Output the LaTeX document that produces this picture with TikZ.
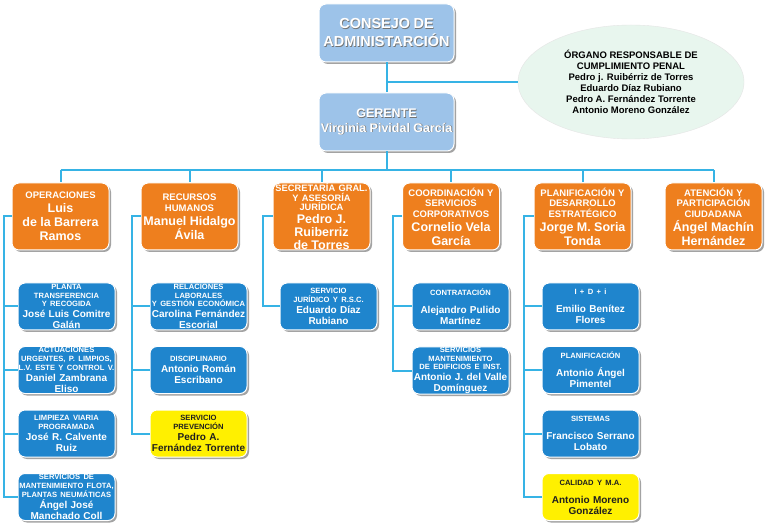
\documentclass[tikz,border=0pt]{standalone}
\usepackage{fontspec}
\setmainfont{Liberation Sans}
\usetikzlibrary{shadows,shapes.geometric}
\definecolor{cline}{HTML}{36B3E5}
\definecolor{corange}{HTML}{EE7F1E}
\definecolor{cblue}{HTML}{1F85CD}
\definecolor{ctop}{HTML}{9DC3E9}
\definecolor{cyel}{HTML}{FFF000}
\definecolor{cell}{HTML}{E8F6EE}
\newcommand\tS[1]{{\fontsize{7.6}{8.8}\selectfont #1\par}}
\newcommand\nS[1]{{\fontsize{10}{11}\selectfont #1\par}}
\newcommand\tO[1]{{\fontsize{9.5}{10.5}\selectfont #1\par}}
\newcommand\nO[1]{{\fontsize{12.5}{14}\selectfont #1\par}}
\newcommand\tOt[1]{{\fontsize{9.3}{9.6}\selectfont #1\par}}
\newcommand\nOt[1]{{\fontsize{12.5}{12.8}\selectfont #1\par}}
\newcommand\tT[1]{{\fontsize{14.5}{18}\selectfont #1\par}}
\newcommand\tG[1]{{\fontsize{12.5}{14.5}\selectfont #1\par}}
\newcommand\gapS{\vspace{7pt}}
\tikzset{
  base/.style={rounded corners=7pt, inner sep=0pt, draw=white, line width=1pt,
    drop shadow={shadow xshift=2pt, shadow yshift=-2pt, fill=black!60, opacity=0.6}},
  obox/.style={base, fill=corange, minimum width=97pt, minimum height=67pt},
  sbox/.style={base, fill=cblue, minimum width=97pt, minimum height=47pt},
  ybox/.style={sbox, fill=cyel},
  tbox/.style={base, fill=ctop, minimum width=135pt, minimum height=58pt},
  wtxt/.style={text=white, font=\bfseries, align=center, text width=134pt, inner sep=0pt},
  dtxt/.style={wtxt, text=black!88},
  shtxt/.style={wtxt, text=black!55, xshift=0.7pt, yshift=-0.7pt},
  conn/.style={draw=cline, line width=2pt},
}
\begin{document}
\begin{tikzpicture}[x=1pt, y=-1pt]
\fill[white] (0,0) rectangle (768,526);
\useasboundingbox (0,0) rectangle (768,526);

% top
\node[tbox, label={[shtxt]center:{\tT{CONSEJO DE\\ADMINISTARCIÓN}}}, label={[wtxt]center:{\tT{CONSEJO DE\\ADMINISTARCIÓN}}}] (consejo) at (386.5,33) {};
\node[tbox, label={[shtxt]center:{\tG{GERENTE\\Virginia Pividal García}}}, label={[wtxt]center:{\tG{GERENTE\\Virginia Pividal García}}}] (gerente) at (386.5,122) {};
\node[ellipse, fill=cell, draw=black!10, minimum width=226pt, minimum height=114pt, align=center, inner sep=0pt,
  font=\bfseries\fontsize{9.5}{11}\selectfont] (organo) at (631,82)
  {ÓRGANO RESPONSABLE DE\\CUMPLIMIENTO PENAL\\Pedro j. Ruibérriz de Torres\\Eduardo Díaz Rubiano\\Pedro A. Fernández Torrente\\Antonio Moreno González};

% orange
\node[obox, label={[wtxt]center:{\tO{OPERACIONES}\nO{Luis\\de la Barrera\\Ramos}}}] (o1) at (60.5,216.5) {};
\node[obox, label={[wtxt]center:{\tO{RECURSOS\\HUMANOS}\nO{Manuel Hidalgo\\Ávila}}}] (o2) at (189.5,216.5) {};
\node[obox, label={[wtxt]center:{\tOt{SECRETARÍA GRAL.\\Y ASESORÍA\\JURÍDICA}\nOt{Pedro J.\\Ruiberriz\\de Torres}}}] (o3) at (321.5,216.5) {};
\node[obox, label={[wtxt]center:{\tO{COORDINACIÓN Y\\SERVICIOS\\CORPORATIVOS}\nO{Cornelio Vela\\García}}}] (o4) at (451,216.5) {};
\node[obox, label={[wtxt]center:{\tO{PLANIFICACIÓN Y\\DESARROLLO\\ESTRATÉGICO}\nO{Jorge M. Soria\\Tonda}}}] (o5) at (582.5,216.5) {};
\node[obox, label={[wtxt]center:{\tO{ATENCIÓN Y\\PARTICIPACIÓN\\CIUDADANA}\nO{Ángel Machín\\Hernández}}}] (o6) at (713.5,216.5) {};

% column 1
\node[sbox, label={[wtxt]center:{\tS{PLANTA\\TRANSFERENCIA\\Y RECOGIDA}\nS{José Luis Comitre\\Galán}}}] (s11) at (66.5,306.5) {};
\node[sbox, label={[wtxt]center:{\tS{ACTUACIONES\\URGENTES, P. LIMPIOS,\\L.V. ESTE Y CONTROL V.}\nS{Daniel Zambrana\\Eliso}}}] (s12) at (66.5,370) {};
\node[sbox, label={[wtxt]center:{\tS{LIMPIEZA VIARIA\\PROGRAMADA}\nS{José R. Calvente\\Ruiz}}}] (s13) at (66.5,433.5) {};
\node[sbox, label={[wtxt]center:{\tS{SERVICIOS DE\\MANTENIMIENTO FLOTA,\\PLANTAS NEUMÁTICAS}\nS{Ángel José\\Manchado Coll}}}] (s14) at (66.5,497) {};
% column 2
\node[sbox, label={[wtxt]center:{\tS{RELACIONES\\LABORALES\\Y GESTIÓN ECONÓMICA}\nS{Carolina Fernández\\Escorial}}}] (s21) at (198.5,306.5) {};
\node[sbox, label={[wtxt]center:{\tS{DISCIPLINARIO}\nS{Antonio Román\\Escribano}}}] (s22) at (198.5,370) {};
\node[ybox, label={[dtxt]center:{\tS{SERVICIO\\PREVENCIÓN}\nS{Pedro A.\\Fernández Torrente}}}] (s23) at (198.5,433.5) {};
% column 3
\node[sbox, label={[wtxt]center:{\tS{SERVICIO\\JURÍDICO Y R.S.C.}\nS{Eduardo Díaz\\Rubiano}}}] (s31) at (328.5,306.5) {};
% column 4
\node[sbox, label={[wtxt]center:{\tS{CONTRATACIÓN}\gapS\nS{Alejandro Pulido\\Martínez}}}] (s41) at (460.5,306.5) {};
\node[sbox, label={[wtxt]center:{\tS{SERVICIOS\\MANTENIMIENTO\\DE EDIFICIOS E INST.}\nS{Antonio J. del Valle\\Domínguez}}}] (s42) at (460.5,370.5) {};
% column 5
\node[sbox, label={[wtxt]center:{\tS{I + D + i}\gapS\nS{Emilio Benítez\\Flores}}}] (s51) at (590.5,306.5) {};
\node[sbox, label={[wtxt]center:{\tS{PLANIFICACIÓN}\gapS\nS{Antonio Ángel\\Pimentel}}}] (s52) at (590.5,370) {};
\node[sbox, label={[wtxt]center:{\tS{SISTEMAS}\gapS\nS{Francisco Serrano\\Lobato}}}] (s53) at (590.5,433.5) {};
\node[ybox, label={[dtxt]center:{\tS{CALIDAD Y M.A.}\gapS\nS{Antonio Moreno\\González}}}] (s54) at (590.5,497) {};

% connectors
\coordinate (bus) at (0,170);
\coordinate (t1) at (4,0);
\coordinate (t2) at (132,0);
\coordinate (t3) at (263,0);
\coordinate (t4) at (393,0);
\coordinate (t5) at (524,0);
\draw[conn] (consejo) -- (gerente);
\draw[conn] (consejo.south |- organo.west) -- (organo.west);
\draw[conn] (gerente.south) -- (gerente.south |- bus);
\draw[conn] (o1.north |- bus) -- (o6.north |- bus);
\foreach \o in {o1,o2,o3,o4,o5,o6} \draw[conn] (\o.north |- bus) -- (\o.north);
\draw[conn] (o1.west) -| (t1 |- s14.west) -- (s14.west);
\foreach \s in {s11,s12,s13} \draw[conn] (t1 |- \s.west) -- (\s.west);
\draw[conn] (o2.west) -| (t2 |- s23.west) -- (s23.west);
\foreach \s in {s21,s22} \draw[conn] (t2 |- \s.west) -- (\s.west);
\draw[conn] (o3.west) -| (t3 |- s31.west) -- (s31.west);
\draw[conn] (o4.west) -| (t4 |- s42.west) -- (s42.west);
\draw[conn] (t4 |- s41.west) -- (s41.west);
\draw[conn] (o5.west) -| (t5 |- s54.west) -- (s54.west);
\foreach \s in {s51,s52,s53} \draw[conn] (t5 |- \s.west) -- (\s.west);
\end{tikzpicture}
\end{document}
